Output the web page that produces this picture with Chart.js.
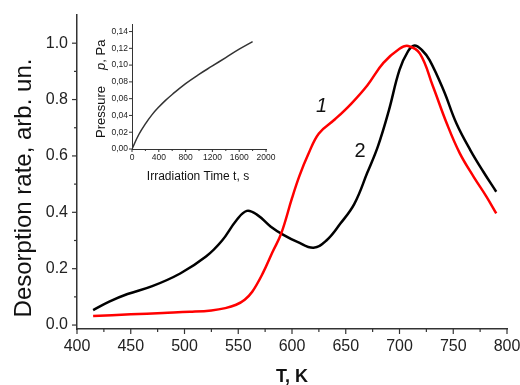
<!DOCTYPE html>
<html>
<head>
<meta charset="utf-8">
<script src="https://cdn.jsdelivr.net/npm/chart.js@4"></script>
<style>
  html, body { margin: 0; padding: 0; background: #fff; }
  #wrap { position: relative; width: 520px; height: 385px; }
  #main { position: absolute; left: 0; top: 0; }
  #inset { position: absolute; left: 88px; top: 18px; }
</style>
</head>
<body>
<div id="wrap">
  <canvas id="main" width="520" height="385"></canvas>
  <canvas id="inset" width="190" height="170"></canvas>
</div>
<script>
// curve 1 (red)
const temp1 = [415, 450, 480, 505, 525, 538, 548, 556, 563, 573, 582, 590, 600, 607, 615, 625, 640, 655, 670, 685, 700, 708, 719, 731, 744, 756, 769, 781, 790];
const rate1 = [0.032, 0.038, 0.043, 0.047, 0.052, 0.06, 0.072, 0.09, 0.118, 0.185, 0.26, 0.325, 0.45, 0.53, 0.605, 0.68, 0.73, 0.785, 0.85, 0.93, 0.98, 0.99, 0.963, 0.848, 0.715, 0.61, 0.526, 0.455, 0.396];

// curve 2 (black)
const temp2 = [415, 430, 447, 470, 496, 520, 535, 548, 558, 568, 580, 592, 605, 620, 632, 645, 658, 670, 680, 690, 700, 708, 714, 721, 728, 741, 753, 766, 778, 790];
const rate2 = [0.053, 0.083, 0.11, 0.138, 0.183, 0.243, 0.3, 0.37, 0.405, 0.39, 0.35, 0.32, 0.295, 0.274, 0.3, 0.36, 0.43, 0.54, 0.635, 0.76, 0.905, 0.972, 0.992, 0.975, 0.94, 0.833, 0.715, 0.62, 0.544, 0.473];

const xTicks = [400, 450, 500, 550, 600, 650, 700, 750, 800];
const xMinor = [425, 475, 525, 575, 625, 675, 725, 775];
const yTicks = [0, 0.2, 0.4, 0.6, 0.8, 1.0];
const yMinor = [0.1, 0.3, 0.5, 0.7, 0.9];

// curve labels
const curveNames = ["1", "2"];
const curveNameT = [627.6, 663.3];
const curveNameV = [0.774, 0.615];

// inset: pressure vs irradiation time
const timeS = [0, 100, 200, 300, 400, 500, 600, 800, 1000, 1200, 1400, 1600, 1800];
const pressPa = [0, 0.017, 0.03, 0.041, 0.05, 0.058, 0.065, 0.078, 0.089, 0.099, 0.109, 0.119, 0.128];
const insetXTicks = [0, 400, 800, 1200, 1600, 2000];
const insetXMinor = [200, 600, 1000, 1400, 1800];
const insetYTicks = [0, 0.02, 0.04, 0.06, 0.08, 0.10, 0.12, 0.14];

const FONT = "'Liberation Sans', Arial, sans-serif";
const AXIS = "#333";

function pts(xs, ys) { return xs.map((x, i) => ({ x: x, y: ys[i] })); }

// tick marks drawn outward, major + minor
const tickMarks = {
  id: "tickMarks",
  afterDraw(chart, args, o) {
    const { ctx, scales: { x, y } } = chart;
    ctx.save();
    ctx.strokeStyle = AXIS;
    ctx.lineWidth = o.width;
    const hx = (v, len) => { const p = x.getPixelForValue(v); ctx.beginPath(); ctx.moveTo(p, x.top); ctx.lineTo(p, x.top + len); ctx.stroke(); };
    const vy = (v, len) => { const p = y.getPixelForValue(v); ctx.beginPath(); ctx.moveTo(y.right, p); ctx.lineTo(y.right - len, p); ctx.stroke(); };
    o.xMajor.forEach(v => hx(v, o.major));
    o.xMinor.forEach(v => hx(v, o.minor));
    o.yMajor.forEach(v => vy(v, o.major));
    o.yMinor.forEach(v => vy(v, o.minor));
    ctx.restore();
  }
};

// axis titles + curve numbers
const mainText = {
  id: "mainText",
  afterDraw(chart) {
    const { ctx, scales: { x, y } } = chart;
    ctx.save();
    ctx.fillStyle = "#111";
    ctx.textAlign = "center";
    ctx.textBaseline = "middle";
    ctx.font = "bold 18px " + FONT;
    ctx.fillText("T, K", (x.left + x.right) / 2, 377);
    ctx.translate(24, 188);
    ctx.rotate(-Math.PI / 2);
    ctx.font = "24px " + FONT;
    ctx.fillText("Desorption rate, arb. un.", 0, 0);
    ctx.restore();

    ctx.save();
    ctx.fillStyle = "#111";
    ctx.textAlign = "center";
    ctx.textBaseline = "middle";
    ctx.font = "italic 20px " + FONT;
    ctx.fillText(curveNames[0], x.getPixelForValue(curveNameT[0]), y.getPixelForValue(curveNameV[0]));
    ctx.font = "20px " + FONT;
    ctx.fillText(curveNames[1], x.getPixelForValue(curveNameT[1]), y.getPixelForValue(curveNameV[1]));
    ctx.restore();
  }
};

new Chart(document.getElementById("main"), {
  type: "line",
  data: {
    datasets: [
      { label: "1", data: pts(temp1, rate1), borderColor: "#ff0000", borderWidth: 2.5, pointRadius: 0, tension: 0.4, fill: false },
      { label: "2", data: pts(temp2, rate2), borderColor: "#000", borderWidth: 2.5, pointRadius: 0, tension: 0.4, fill: false }
    ]
  },
  options: {
    responsive: false,
    animation: false,
    layout: { padding: { top: 15, right: 13, left: 0, bottom: 0 } },
    plugins: {
      legend: { display: false },
      tooltip: { enabled: false },
      tickMarks: { xMajor: xTicks, xMinor: xMinor, yMajor: yTicks, yMinor: yMinor, major: 5, minor: 3, width: 1.2 }
    },
    scales: {
      x: {
        type: "linear", min: 400, max: 800,
        afterBuildTicks: s => { s.ticks = xTicks.map(v => ({ value: v })); },
        afterFit: s => { s.height = 56; s.paddingLeft = 0; s.paddingRight = 0; },
        grid: { display: false, drawTicks: false },
        border: { display: true, color: AXIS, width: 1.5 },
        ticks: { padding: 8, color: "#222", font: { family: FONT, size: 16 }, maxRotation: 0, callback: v => String(v) }
      },
      y: {
        type: "linear", min: -0.014, max: 1.1,
        afterBuildTicks: s => { s.ticks = yTicks.map(v => ({ value: v })); },
        afterFit: s => { s.width = 77; s.paddingTop = 0; s.paddingBottom = 0; },
        grid: { display: false, drawTicks: false },
        border: { display: true, color: AXIS, width: 1.5 },
        ticks: { padding: 9, color: "#222", font: { family: FONT, size: 16 }, callback: v => v.toFixed(1) }
      }
    }
  },
  plugins: [tickMarks, mainText]
});

// inset titles
const insetText = {
  id: "insetText",
  afterDraw(chart) {
    const { ctx } = chart;
    ctx.save();
    ctx.fillStyle = "#111";
    ctx.textAlign = "center";
    ctx.textBaseline = "middle";
    ctx.font = "12px " + FONT;
    ctx.fillText("Irradiation Time t, s", 110, 159);
    ctx.translate(13, 120);
    ctx.rotate(-Math.PI / 2);
    ctx.textAlign = "left";
    ctx.font = "13px " + FONT;
    ctx.fillText("Pressure", 0, 0);
    let off = ctx.measureText("Pressure").width + 16;
    ctx.font = "italic 13px " + FONT;
    ctx.fillText("p", off, 0);
    off += ctx.measureText("p").width;
    ctx.font = "13px " + FONT;
    ctx.fillText(", Pa", off, 0);
    ctx.restore();
  }
};

new Chart(document.getElementById("inset"), {
  type: "line",
  data: {
    datasets: [
      { data: pts(timeS, pressPa), borderColor: "#333", borderWidth: 1.5, pointRadius: 0, tension: 0.4, fill: false }
    ]
  },
  options: {
    responsive: false,
    animation: false,
    layout: { padding: { top: 6, right: 12, left: 0, bottom: 0 } },
    plugins: {
      legend: { display: false },
      tooltip: { enabled: false },
      tickMarks: { xMajor: insetXTicks, xMinor: insetXMinor, yMajor: insetYTicks, yMinor: [], major: 3, minor: 2, width: 1 }
    },
    scales: {
      x: {
        type: "linear", min: 0, max: 2000,
        afterBuildTicks: s => { s.ticks = insetXTicks.map(v => ({ value: v })); },
        afterFit: s => { s.height = 39; s.paddingLeft = 0; s.paddingRight = 0; },
        grid: { display: false, drawTicks: false },
        border: { display: true, color: AXIS, width: 1 },
        ticks: { padding: 4, color: "#222", font: { family: FONT, size: 8.5 }, maxRotation: 0, callback: v => String(v) }
      },
      y: {
        type: "linear", min: 0, max: 0.149,
        afterBuildTicks: s => { s.ticks = insetYTicks.map(v => ({ value: v })); },
        afterFit: s => { s.width = 44; s.paddingTop = 0; s.paddingBottom = 0; },
        grid: { display: false, drawTicks: false },
        border: { display: true, color: AXIS, width: 1 },
        ticks: { padding: 4, color: "#222", font: { family: FONT, size: 8.5 }, callback: v => v.toFixed(2).replace(".", ",") }
      }
    }
  },
  plugins: [tickMarks, insetText]
});
</script>
</body>
</html>
